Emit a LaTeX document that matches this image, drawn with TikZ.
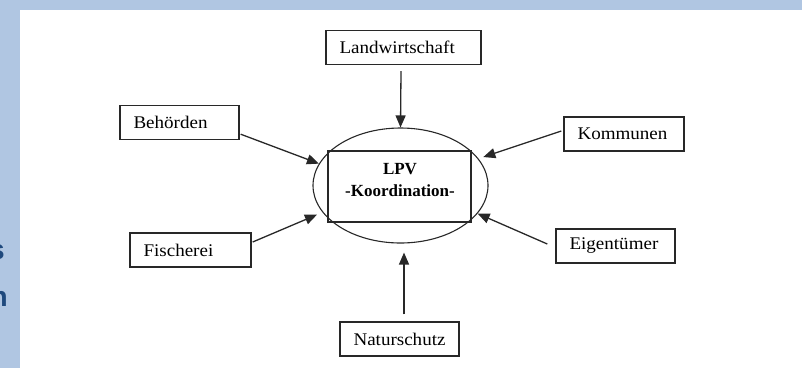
\documentclass[tikz,border=0pt]{standalone}
\usepackage{fontspec}
\setmainfont{Liberation Serif}[FakeStretch=1.07]
\newfontfamily\lpvfont{Liberation Serif}[BoldFont={Liberation Serif Bold}]
\newfontfamily\sidefont{Liberation Sans}
\usetikzlibrary{arrows.meta,shapes.geometric,calc}
\definecolor{bgblue}{RGB}{176,198,226}
\definecolor{darkblue}{RGB}{31,73,125}
\definecolor{lineclr}{RGB}{40,40,40}
\tikzset{
  box/.style={draw=lineclr, line width=1.4pt, rectangle, minimum height=34pt,
    inner xsep=13.5pt, inner ysep=0pt, align=left,
    font=\fontsize{17.8}{20}\selectfont},
  arr/.style={draw=lineclr, line width=1.3pt,
    -{Triangle[length=12pt,width=10pt]}},
  sidetxt/.style={text=darkblue, inner sep=0pt, anchor=base east,
    font=\sidefont\bfseries\fontsize{28}{30}\selectfont}
}
\begin{document}
\begin{tikzpicture}[x=1pt,y=-1pt]
  \clip (0,0) rectangle (802,368);
  % background
  \fill[bgblue] (0,0) rectangle (802,368);
  \node[sidetxt] (s1) at (5,259) {s};
  \node[sidetxt] (s2) at (8,306) {n};
  \fill[white] (20,10) rectangle (802,368);

  % centre
  \node[draw=lineclr, line width=1.1pt, ellipse, minimum width=175pt,
        minimum height=115pt, inner sep=0pt] (ell) at (400.5,185.5) {};
  \node[draw=lineclr, line width=1.4pt, rectangle, minimum width=143pt,
        minimum height=71pt, inner sep=0pt] (lpv) at (399.5,186.5) {};
  \node[align=center, inner sep=0pt, font=\lpvfont\bfseries\fontsize{17}{22}\selectfont]
        (lpvtext) at (400,180) {LPV\\-Koordination-};

  % boxes
  \node[box, text width=128pt] (landw) at (403.5,47.5) {Landwirtschaft};
  \node[box, text width=92pt] (behoerden) at (179.5,122.5) {Behörden};
  \node[box, text width=93pt] (kommunen) at (624,134) {Kommunen};
  \node[box, text width=94pt] (fischerei) at (190.5,250) {Fischerei};
  \node[box, text width=92pt] (eigent) at (615.5,246) {Eigentümer};
  \node[box, text width=92pt] (natur) at (399.5,339) {Naturschutz};

  % arrows
  \draw[arr] ([shift={(-2.5pt,-6pt)}]landw.south) -- (ell.north);
  \draw[arr] ([shift={(1pt,6pt)}]behoerden.south east) -- (ell.165);
  \draw[arr, shorten >=5pt] ([shift={(-2pt,3pt)}]kommunen.west) -- (ell.19);
  \draw[arr, shorten >=6pt] ([shift={(1pt,8pt)}]fischerei.east) -- (ell.199.7);
  \draw[arr] ([shift={(-8pt,2pt)}]eigent.west) -- (ell.340.5);
  \draw[arr] ([shift={(4.5pt,7pt)}]natur.north) -- ([shift={(3.5pt,-9pt)}]ell.south);
\end{tikzpicture}
\end{document}
